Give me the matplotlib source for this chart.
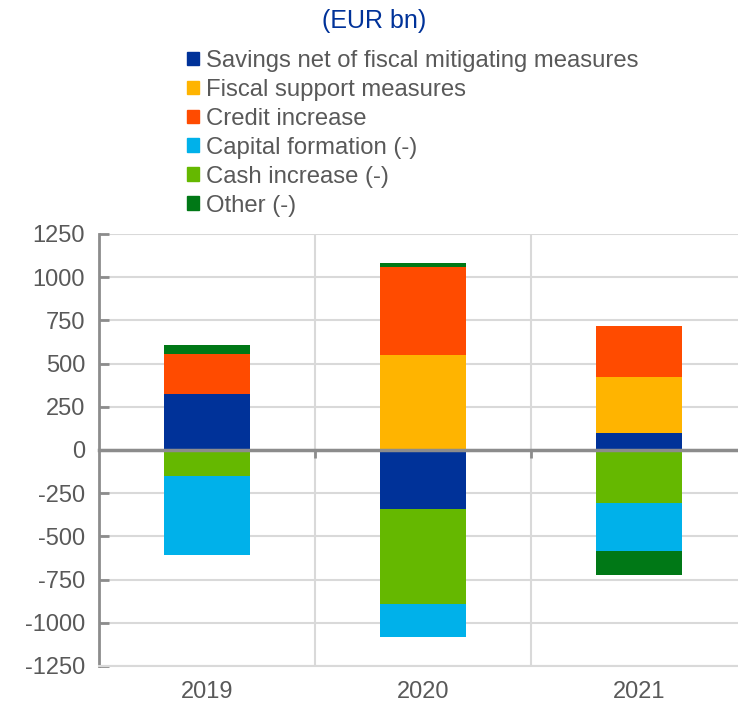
import numpy as np
import matplotlib
matplotlib.use("Agg")
import matplotlib.pyplot as plt
from matplotlib.patches import Patch

plt.rcParams['font.family'] = ['Liberation Sans', 'DejaVu Sans']
plt.rcParams['axes.unicode_minus'] = False

# Données (EUR bn)
years = ['2019', '2020', '2021']
savings = [325, -344, 97]
fiscal = [0, 547, 324]
credit = [230, 514, 298]
capital = [-460, -186, -280]
cash = [-150, -550, -307]
other = [52, 21, -135]

labels = ['Savings net of fiscal mitigating measures', 'Fiscal support measures',
          'Credit increase', 'Capital formation (-)', 'Cash increase (-)', 'Other (-)']
colors = ['#003299', '#FFB400', '#FF4B00', '#00B1EA', '#65B800', '#007816']
series = [savings, fiscal, credit, capital, cash, other]
# ordre d'empilement (cash avant capital)
stack_order = [0, 1, 2, 4, 3, 5]

grey = '#595959'
axis_grey = '#8c8c8c'
grid_grey = '#d9d9d9'

fig = plt.figure(figsize=(7.38, 7.05), dpi=100)
ax = fig.add_axes([99 / 738, 39 / 705, 648 / 738, 432 / 705])

x = np.arange(len(years))
pos = np.zeros(len(years))
neg = np.zeros(len(years))
for i in stack_order:
    vals = np.array(series[i], dtype=float)
    bottom = np.where(vals >= 0, pos, neg)
    ax.bar(x, vals, 0.4, bottom=bottom, color=colors[i], zorder=3)
    pos = pos + np.where(vals >= 0, vals, 0)
    neg = neg + np.where(vals < 0, vals, 0)

ax.set_xlim(-0.5, 2.5)
ax.set_ylim(-1250, 1250)
ax.set_yticks(np.arange(-1250, 1251, 250))
ax.tick_params(axis='y', direction='in', length=7, width=2, color=axis_grey,
               labelsize=17, labelcolor=grey, pad=10)
ax.set_xticks(x)
ax.set_xticklabels(years)
ax.tick_params(axis='x', length=0, labelsize=17, labelcolor=grey, pad=11)
ax.set_xticks([0.5, 1.5], minor=True)
ax.tick_params(axis='x', which='minor', length=0)
ax.grid(axis='y', color=grid_grey, lw=1.5, zorder=0)
ax.grid(axis='x', which='minor', color=grid_grey, lw=1.5, zorder=0)

for s in ['top', 'right']:
    ax.spines[s].set_visible(False)
ax.spines['bottom'].set_color(grid_grey)
ax.spines['bottom'].set_linewidth(1.5)
ax.spines['left'].set_color(axis_grey)
ax.spines['left'].set_linewidth(2)

# ligne du zéro avec petites graduations
sec = ax.secondary_xaxis(0.5)
sec.set_xticks([0.5, 1.5])
sec.set_xticklabels([])
sec.tick_params(direction='in', length=6, width=2, color=axis_grey)
for sp in sec.spines.values():
    sp.set_color(axis_grey)
    sp.set_linewidth(2.5)
sec.set_zorder(5)

handles = [Patch(color=c) for c in colors]
fig.legend(handles, labels, loc='upper left', bbox_to_anchor=(187 / 738, 1 - 50 / 705),
           frameon=False, fontsize=17.2, labelcolor=grey, handlelength=0.5,
           handleheight=0.5, handletextpad=0.3, labelspacing=0.29,
           borderpad=0, borderaxespad=0)

fig.text(374 / 738, 1 - 21 / 705, '(EUR bn)', ha='center', va='center',
         fontsize=18, color='#003299')

plt.savefig('out.png', dpi=100)
